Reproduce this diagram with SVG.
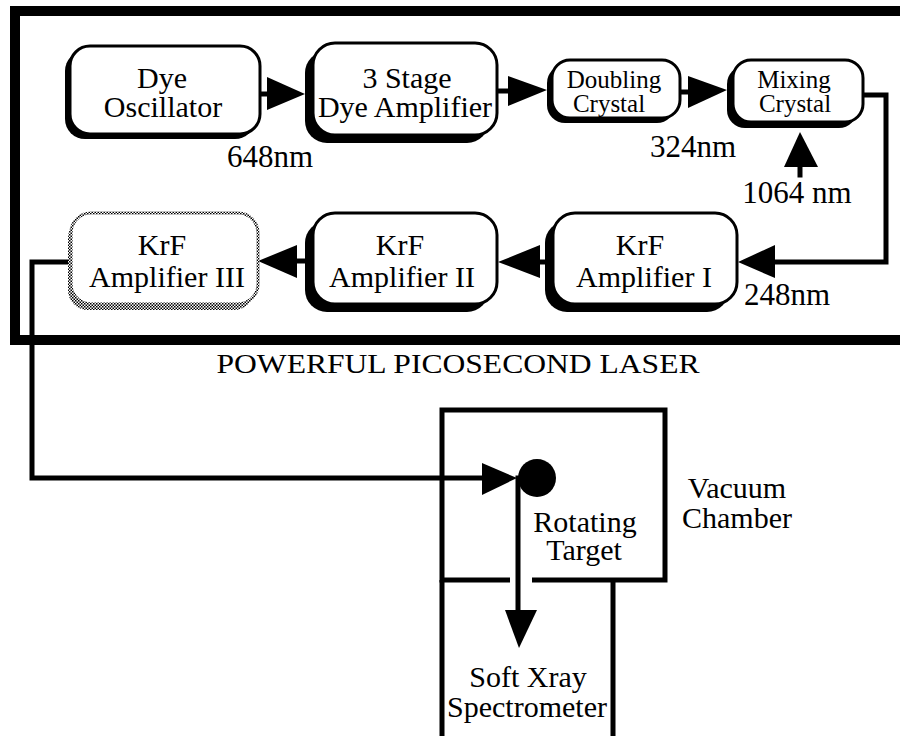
<svg xmlns="http://www.w3.org/2000/svg" width="900" height="736" viewBox="0 0 900 736" font-family="'Liberation Serif', 'Times New Roman', serif">
<style>
text{font-family:'Liberation Serif','Times New Roman',serif;font-weight:normal;fill:#000;text-anchor:middle}
.t30{font-size:30px}
.t26{font-size:25px}
.t31{font-size:31px}
.sh{fill:#000}
.bx{fill:#fff;stroke:#000;stroke-width:3}
.ln{fill:none;stroke:#000;stroke-width:5;stroke-linecap:square}
.ah{fill:#000}
</style>
<defs>
<pattern id="chk" width="3" height="3" patternUnits="userSpaceOnUse">
<rect width="3" height="3" fill="#fff"/>
<rect width="1.5" height="1.5" fill="#000"/>
<rect x="1.5" y="1.5" width="1.5" height="1.5" fill="#000"/>
</pattern>
</defs>
<rect width="900" height="736" fill="#fff"/>
<g id="frame">
<rect x="15" y="11" width="900" height="329" fill="none" stroke="#000" stroke-width="10"/>
<text x="458" y="373" font-family="'Liberation Serif', serif" font-size="28" textLength="483" lengthAdjust="spacingAndGlyphs">POWERFUL PICOSECOND LASER</text>
</g>
<g id="connectors">
<line class="ln" x1="260" y1="94" x2="268" y2="94"/>
<polygon class="ah" points="267,77 267,110 305,94"/>
<line class="ln" x1="497" y1="91" x2="508" y2="91"/>
<polygon class="ah" points="508,76 508,106 547,90"/>
<line class="ln" x1="680" y1="92" x2="690" y2="92"/>
<polygon class="ah" points="688,76 688,108 727,90"/>
<polyline class="ln" points="863,95 886,95 886,262 775,262"/>
<polygon class="ah" points="775,245 775,278 738,262"/>
<line class="ln" x1="800" y1="160" x2="800" y2="175"/>
<polygon class="ah" points="800,132 784,167 818,167"/>
<line class="ln" x1="540" y1="262" x2="547" y2="262"/>
<polygon class="ah" points="540,245 540,278 498,262"/>
<line class="ln" x1="297" y1="261" x2="306" y2="261"/>
<polygon class="ah" points="297,245 297,278 258,261"/>
<polyline class="ln" points="70,262 32,262 32,478 484,478"/>
<polygon class="ah" points="482,463 482,495 517,478"/>
<line class="ln" x1="518" y1="478" x2="518" y2="610"/>
<polygon class="ah" points="505,610 537,610 519,648"/>
</g>
<g id="dye-oscillator">
<rect class="sh" x="65" y="51" width="190" height="88" rx="20"/>
<rect class="bx" x="70" y="46" width="190" height="88" rx="20"/>
<text class="t30" x="162" y="88" font-family="'Liberation Serif', serif">Dye</text>
<text class="t30" x="163" y="117" font-family="'Liberation Serif', serif">Oscillator</text>
</g>
<g id="dye-amplifier">
<rect class="sh" x="305" y="51" width="184" height="92" rx="22"/>
<rect class="bx" x="313" y="43" width="184" height="92" rx="22"/>
<text class="t30" x="407" y="88" font-family="'Liberation Serif', serif">3 Stage</text>
<text class="t30" x="405" y="117" font-family="'Liberation Serif', serif">Dye Amplifier</text>
</g>
<g id="doubling-crystal">
<rect class="sh" x="547" y="65" width="128" height="58" rx="18"/>
<rect class="bx" x="552" y="60" width="128" height="58" rx="18"/>
<text class="t26" x="614" y="88" font-family="'Liberation Serif', serif">Doubling</text>
<text class="t26" x="609" y="112" font-family="'Liberation Serif', serif">Crystal</text>
</g>
<g id="mixing-crystal">
<rect class="sh" x="727" y="66" width="130" height="62" rx="18"/>
<rect class="bx" x="733" y="60" width="130" height="62" rx="18"/>
<text class="t26" x="794" y="88" font-family="'Liberation Serif', serif">Mixing</text>
<text class="t26" x="795" y="112" font-family="'Liberation Serif', serif">Crystal</text>
</g>
<g id="krf-1">
<rect class="sh" x="545" y="221" width="184" height="91" rx="22"/>
<rect class="bx" x="553" y="213" width="184" height="91" rx="22"/>
<text class="t30" x="640" y="255" font-family="'Liberation Serif', serif">KrF</text>
<text class="t30" x="644" y="287" font-family="'Liberation Serif', serif">Amplifier I</text>
</g>
<g id="krf-2">
<rect class="sh" x="305" y="221" width="184" height="91" rx="22"/>
<rect class="bx" x="313" y="213" width="184" height="91" rx="22"/>
<text class="t30" x="400" y="255" font-family="'Liberation Serif', serif">KrF</text>
<text class="t30" x="402" y="287" font-family="'Liberation Serif', serif">Amplifier II</text>
</g>
<g id="krf-3">
<rect x="68" y="218" width="186" height="92" rx="20" fill="url(#chk)"/>
<rect x="71" y="213" width="187" height="91" rx="20" fill="#fff" stroke="url(#chk)" stroke-width="3"/>
<text class="t30" x="162" y="255" font-family="'Liberation Serif', serif">KrF</text>
<text class="t30" x="167" y="287" font-family="'Liberation Serif', serif">Amplifier III</text>
</g>
<g id="labels">
<text class="t31" x="270" y="167" font-family="'Liberation Serif', serif">648nm</text>
<text class="t31" x="693" y="157" font-family="'Liberation Serif', serif">324nm</text>
<text class="t31" x="797" y="203" font-family="'Liberation Serif', serif">1064 nm</text>
<text class="t31" x="787" y="305" font-family="'Liberation Serif', serif">248nm</text>
</g>
<g id="vacuum-chamber">
<polyline fill="none" stroke="#000" stroke-width="5" points="510,580 442,580 442,410 665,410 665,580 532,580"/>
<text class="t30" x="737" y="498" font-family="'Liberation Serif', serif">Vacuum</text>
<text class="t30" x="737" y="528" font-family="'Liberation Serif', serif">Chamber</text>
</g>
<g id="rotating-target">
<circle cx="537" cy="478" r="19" fill="#000"/>
<text class="t30" x="585" y="532" font-family="'Liberation Serif', serif">Rotating</text>
<text class="t30" x="584" y="560" font-family="'Liberation Serif', serif">Target</text>
</g>
<g id="spectrometer">
<line x1="442" y1="580" x2="442" y2="736" stroke="#000" stroke-width="5"/>
<line x1="613" y1="580" x2="613" y2="736" stroke="#000" stroke-width="5"/>
<text class="t30" x="528" y="687" font-family="'Liberation Serif', serif">Soft Xray</text>
<text class="t30" x="527" y="717" font-family="'Liberation Serif', serif">Spectrometer</text>
</g>
</svg>
